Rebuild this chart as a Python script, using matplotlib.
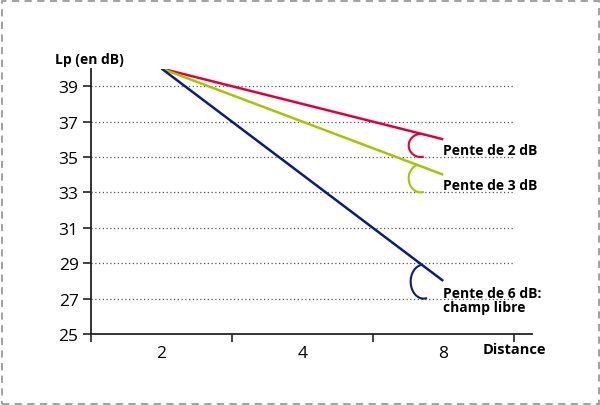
import math
import matplotlib
matplotlib.use("Agg")
import matplotlib.pyplot as plt
from matplotlib.patches import Rectangle
from matplotlib.lines import Line2D
from matplotlib.transforms import IdentityTransform

plt.rcParams['font.family'] = ['Open Sans', 'DejaVu Sans']

# Data
distances = ["2", "4", "8"]
y_ticks = [25, 27, 29, 31, 33, 35, 37, 39]
grid_levels = [27, 29, 31, 33, 35, 37, 39]
pente_2 = [40, 38, 36]
pente_3 = [40, 37, 34]
pente_6 = [40, 34, 28]
labels = ["Pente de 2 dB", "Pente de 3 dB", "Pente de 6 dB:\nchamp libre"]
arc_bottoms = [35, 33, 27]

colors = ["#e2003c", "#a9c300", "#0d1a80"]

fig = plt.figure(figsize=(6.0, 4.06), dpi=100)
ax = fig.add_axes([91/600, 71/406, 441/600, 265.5/406])

xpos = [1, 2, 3]
ax.set_xlim(0.5, 3.63)
ax.set_ylim(25, 40)

for lvl in grid_levels:
    ax.hlines(lvl, 0.5, 3.5, colors="#555555", linestyles=(0, (1, 2)), linewidth=0.9, zorder=1)

series = [pente_2, pente_3, pente_6]
for s, c in zip(series, colors):
    ax.plot(xpos, s, color=c, linewidth=1.8, solid_capstyle='butt', zorder=3)

for sp in ["top", "right"]:
    ax.spines[sp].set_visible(False)
for sp in ["left", "bottom"]:
    ax.spines[sp].set_linewidth(1.3)
    ax.spines[sp].set_color("#222222")

ax.set_yticks(y_ticks)
ax.set_yticklabels([str(v) for v in y_ticks], fontsize=12.5)
ax.tick_params(axis='y', length=6, width=1.2, color="#222222", pad=3)

ax.set_xticks([0.5, 1.5, 2.5, 3.5])
ax.set_xticklabels([])
ax.tick_params(axis='x', which='major', length=6, width=1.2, color="#222222")
ax.set_xticks(xpos, minor=True)
ax.set_xticklabels(distances, minor=True, fontsize=12.5)
ax.tick_params(axis='x', which='minor', length=0, pad=8)

fig.text(514.5/600, 1 - 350/406, "Distance", fontsize=10.5, fontweight='bold',
         ha='center', va='center')
fig.text(55/600, 1 - 60/406, "Lp (en dB)", fontsize=10, fontweight='bold', ha='left', va='center')

# labels at line ends
ax.text(3.0, 35.37, labels[0], fontsize=10, fontweight='bold', ha='left', va='center')
ax.text(3.0, 33.44, labels[1], fontsize=10, fontweight='bold', ha='left', va='center')
ax.text(3.0, 27.7, labels[2], fontsize=10, fontweight='bold', ha='left', va='top', linespacing=1.0)

fig.canvas.draw()
# Angle arcs (elliptical, tangent to the gridline, starting on the line)
arc_cx = [2.84, 2.84, 2.861]
arc_a = [12, 12, 13]
arc_b = [11.5, 14, 17]
for c, s, yb, cxd, a, b in zip(colors, series, arc_bottoms, arc_cx, arc_a, arc_b):
    p1 = ax.transData.transform((2, s[1]))
    p2 = ax.transData.transform((3, s[2]))
    slope = (p2[1] - p1[1]) / (p2[0] - p1[0])
    Cx, gy = ax.transData.transform((cxd, yb))
    Cy = gy + b
    start = 90.0
    th = 90.0
    while th < 200:
        px = Cx + a * math.cos(math.radians(th))
        py = Cy + b * math.sin(math.radians(th))
        ly = p1[1] + slope * (px - p1[0])
        if py <= ly:
            start = th
            break
        th += 0.25
    ths = [start + (285 - start) * i / 120 for i in range(121)]
    xs = [Cx + a * math.cos(math.radians(t)) for t in ths]
    ys = [Cy + b * math.sin(math.radians(t)) for t in ths]
    fig.add_artist(Line2D(xs, ys, color=c, linewidth=1.5, transform=IdentityTransform(),
                          solid_capstyle='butt', zorder=4))

# dashed border
fig.add_artist(Rectangle((1.5/600, 1.5/406), 597/600, 403/406, transform=fig.transFigure,
                         fill=False, edgecolor="#9a9a9a", linewidth=1.3,
                         linestyle=(0, (4, 3))))

fig.savefig("out.png", dpi=100)
